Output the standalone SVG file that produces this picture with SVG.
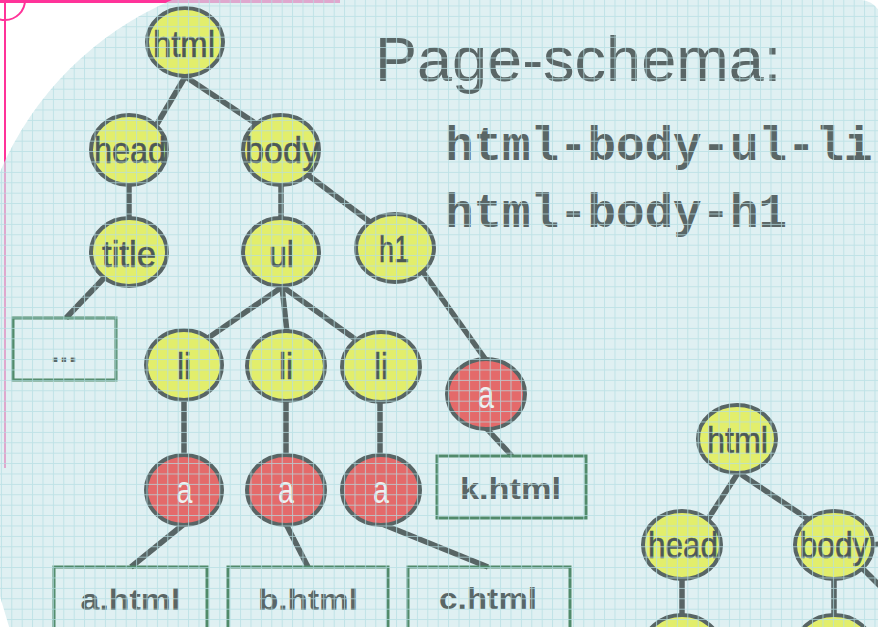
<svg xmlns="http://www.w3.org/2000/svg" width="878" height="627" viewBox="0 0 878 627">
  <style>
    .edge { stroke: #586565; stroke-width: 5.5; stroke-linecap: butt; fill: none; }
    .tag ellipse { fill: #e2ee6c; stroke: #586565; stroke-width: 4; }
    .link ellipse { fill: #e46a6a; stroke: #586565; stroke-width: 4; }
    .tag text { font-family: "Liberation Sans", Arial, sans-serif; font-size: 36px; fill: #4c5858; stroke: #4c5858; stroke-width: 0.6; text-anchor: middle; }
    .link text { font-family: "Liberation Sans", Arial, sans-serif; font-size: 38px; fill: #eef2f2; text-anchor: middle; }
    .file rect { fill: none; stroke: #508a6a; stroke-width: 3; }
    .file text { font-family: "Liberation Sans", Arial, sans-serif; font-size: 30px; font-weight: bold; fill: #5a6666; text-anchor: middle; }
    .mono { font-family: "Liberation Mono", "Courier New", monospace; font-weight: bold; font-size: 47.5px; fill: #5a6666; }
  </style>
  <defs>
    <clipPath id="sheet">
      <path d="M0,172 A326,326 0 0 1 172,0 L862,0 Q873,1 880,12 L880,640 L13,640 L-1,593 L-5,590 L-5,180 Z"/>
    </clipPath>
    <pattern id="grid" width="10.4" height="10.4" x="0.9" y="5.5" patternUnits="userSpaceOnUse">
      <path d="M0,0.5 H10.4 M0.5,0 V10.4" stroke="#b4dde2" stroke-width="1" fill="none"/>
    </pattern>
  </defs>

  <!-- page background -->
  <rect x="0" y="0" width="878" height="627" fill="#ffffff"/>

  <!-- pink margin guides -->
  <g stroke="#ff3399" fill="none">
    <line x1="0" y1="1.5" x2="340" y2="1.5" stroke-width="3"/>
    <line x1="5" y1="0" x2="5" y2="468" stroke-width="2"/>
    <circle cx="5" cy="0" r="20" stroke-width="2"/>
  </g>

  <!-- tinted sheet -->
  <path d="M0,172 A326,326 0 0 1 172,0 L862,0 Q873,1 880,12 L880,640 L13,640 L-1,593 L-5,590 L-5,180 Z" fill="rgb(206,232,235)" fill-opacity="0.65"/>

  <!-- title and paths -->
  <g id="heading">
    <text x="375" y="81" font-family="Liberation Sans, Arial, sans-serif" font-size="63" fill="#5a6666">Page-schema:</text>
    <text class="mono" x="445" y="160">html-body-ul-li</text>
    <text class="mono" x="445" y="227">html-body-h1</text>
  </g>

  <!-- connectors -->
  <g id="connectors" class="edge">
    <line x1="185" y1="77" x2="157" y2="124"/>
    <line x1="186" y1="77" x2="258" y2="125"/>
    <line x1="129" y1="184" x2="129" y2="219"/>
    <line x1="281" y1="184" x2="281" y2="219"/>
    <line x1="304" y1="172" x2="370" y2="222"/>
    <line x1="105" y1="277" x2="66" y2="318"/>
    <line x1="282" y1="287" x2="208" y2="338"/>
    <line x1="282" y1="287" x2="287" y2="332"/>
    <line x1="283" y1="287" x2="355" y2="339"/>
    <line x1="423" y1="272" x2="486" y2="360"/>
    <line x1="184" y1="399" x2="184" y2="456"/>
    <line x1="286" y1="400" x2="286" y2="456"/>
    <line x1="380" y1="401" x2="380" y2="456"/>
    <line x1="184" y1="524" x2="131" y2="567"/>
    <line x1="286" y1="524" x2="308" y2="567"/>
    <line x1="382" y1="524" x2="488" y2="567"/>
    <line x1="486" y1="428" x2="512" y2="456"/>
    <line x1="738" y1="473" x2="708" y2="519"/>
    <line x1="739" y1="473" x2="808" y2="519"/>
    <line x1="682" y1="578" x2="682" y2="615"/>
    <line x1="834" y1="578" x2="834" y2="615"/>
    <line x1="861" y1="567" x2="880" y2="586"/>
    <line x1="872" y1="545" x2="880" y2="544"/>
  </g>

  <!-- first tree -->
  <g id="n-html" class="tag"><ellipse cx="185" cy="42" rx="38" ry="34"/><text x="184" y="57" textLength="62" lengthAdjust="spacingAndGlyphs">html</text></g>
  <g id="n-head" class="tag"><ellipse cx="129" cy="150" rx="38" ry="35"/><text x="130" y="163" textLength="72" lengthAdjust="spacingAndGlyphs">head</text></g>
  <g id="n-body" class="tag"><ellipse cx="281" cy="150" rx="38" ry="35"/><text x="282" y="163" textLength="74" lengthAdjust="spacingAndGlyphs">body</text></g>
  <g id="n-title" class="tag"><ellipse cx="129" cy="252" rx="38" ry="34"/><text x="129" y="267" textLength="54" lengthAdjust="spacingAndGlyphs">title</text></g>
  <g id="n-ul" class="tag"><ellipse cx="281" cy="252" rx="38" ry="34"/><text x="281.5" y="267" textLength="25" lengthAdjust="spacingAndGlyphs">ul</text></g>
  <g id="n-h1" class="tag"><ellipse cx="395" cy="248" rx="39" ry="34"/><text x="394" y="262" textLength="30" lengthAdjust="spacingAndGlyphs">h1</text></g>
  <g id="n-li1" class="tag"><ellipse cx="184" cy="365" rx="38" ry="35"/><text x="184" y="379" textLength="14" lengthAdjust="spacingAndGlyphs">li</text></g>
  <g id="n-li2" class="tag"><ellipse cx="286" cy="366" rx="39" ry="35"/><text x="286" y="379" textLength="14" lengthAdjust="spacingAndGlyphs">li</text></g>
  <g id="n-li3" class="tag"><ellipse cx="381" cy="367" rx="39" ry="35"/><text x="381" y="379" textLength="14" lengthAdjust="spacingAndGlyphs">li</text></g>

  <g id="n-a1" class="link"><ellipse cx="184" cy="490" rx="38" ry="35"/><text x="184.5" y="503" textLength="16" lengthAdjust="spacingAndGlyphs">a</text></g>
  <g id="n-a2" class="link"><ellipse cx="286" cy="490" rx="39" ry="35"/><text x="286" y="503" textLength="16" lengthAdjust="spacingAndGlyphs">a</text></g>
  <g id="n-a3" class="link"><ellipse cx="381" cy="490" rx="39" ry="35"/><text x="381" y="503" textLength="16" lengthAdjust="spacingAndGlyphs">a</text></g>
  <g id="n-a4" class="link"><ellipse cx="486" cy="394" rx="39" ry="35"/><text x="486" y="408" textLength="16" lengthAdjust="spacingAndGlyphs">a</text></g>

  <g id="f-more" class="file"><rect x="13" y="318" width="103" height="62"/><text x="64" y="362" font-size="22" font-weight="normal" textLength="26" lengthAdjust="spacing">...</text></g>
  <g id="f-a" class="file"><rect x="54" y="567" width="153" height="80"/><text x="130.5" y="610" textLength="100" lengthAdjust="spacingAndGlyphs">a.html</text></g>
  <g id="f-b" class="file"><rect x="228" y="567" width="160" height="80"/><text x="308" y="610" textLength="100" lengthAdjust="spacingAndGlyphs">b.html</text></g>
  <g id="f-c" class="file"><rect x="408" y="567" width="162" height="80"/><text x="488" y="609" textLength="98" lengthAdjust="spacingAndGlyphs">c.html</text></g>
  <g id="f-k" class="file"><rect x="437" y="456" width="149" height="62"/><text x="510.5" y="499" textLength="101" lengthAdjust="spacingAndGlyphs">k.html</text></g>

  <!-- second tree -->
  <g id="m-html" class="tag"><ellipse cx="737" cy="439" rx="39" ry="34"/><text x="737.5" y="453" textLength="61" lengthAdjust="spacingAndGlyphs">html</text></g>
  <g id="m-head" class="tag"><ellipse cx="682" cy="545" rx="39" ry="34"/><text x="683" y="558" textLength="70" lengthAdjust="spacingAndGlyphs">head</text></g>
  <g id="m-body" class="tag"><ellipse cx="834" cy="545" rx="39" ry="34"/><text x="834" y="558" textLength="69" lengthAdjust="spacingAndGlyphs">body</text></g>
  <g id="m-child1" class="tag"><ellipse cx="682" cy="649" rx="39" ry="34"/></g>
  <g id="m-child2" class="tag"><ellipse cx="834" cy="649" rx="39" ry="34"/></g>

  <!-- grid overlay on the sheet -->
  <rect x="0" y="0" width="878" height="627" fill="url(#grid)" clip-path="url(#sheet)" opacity="0.75"/>
</svg>
